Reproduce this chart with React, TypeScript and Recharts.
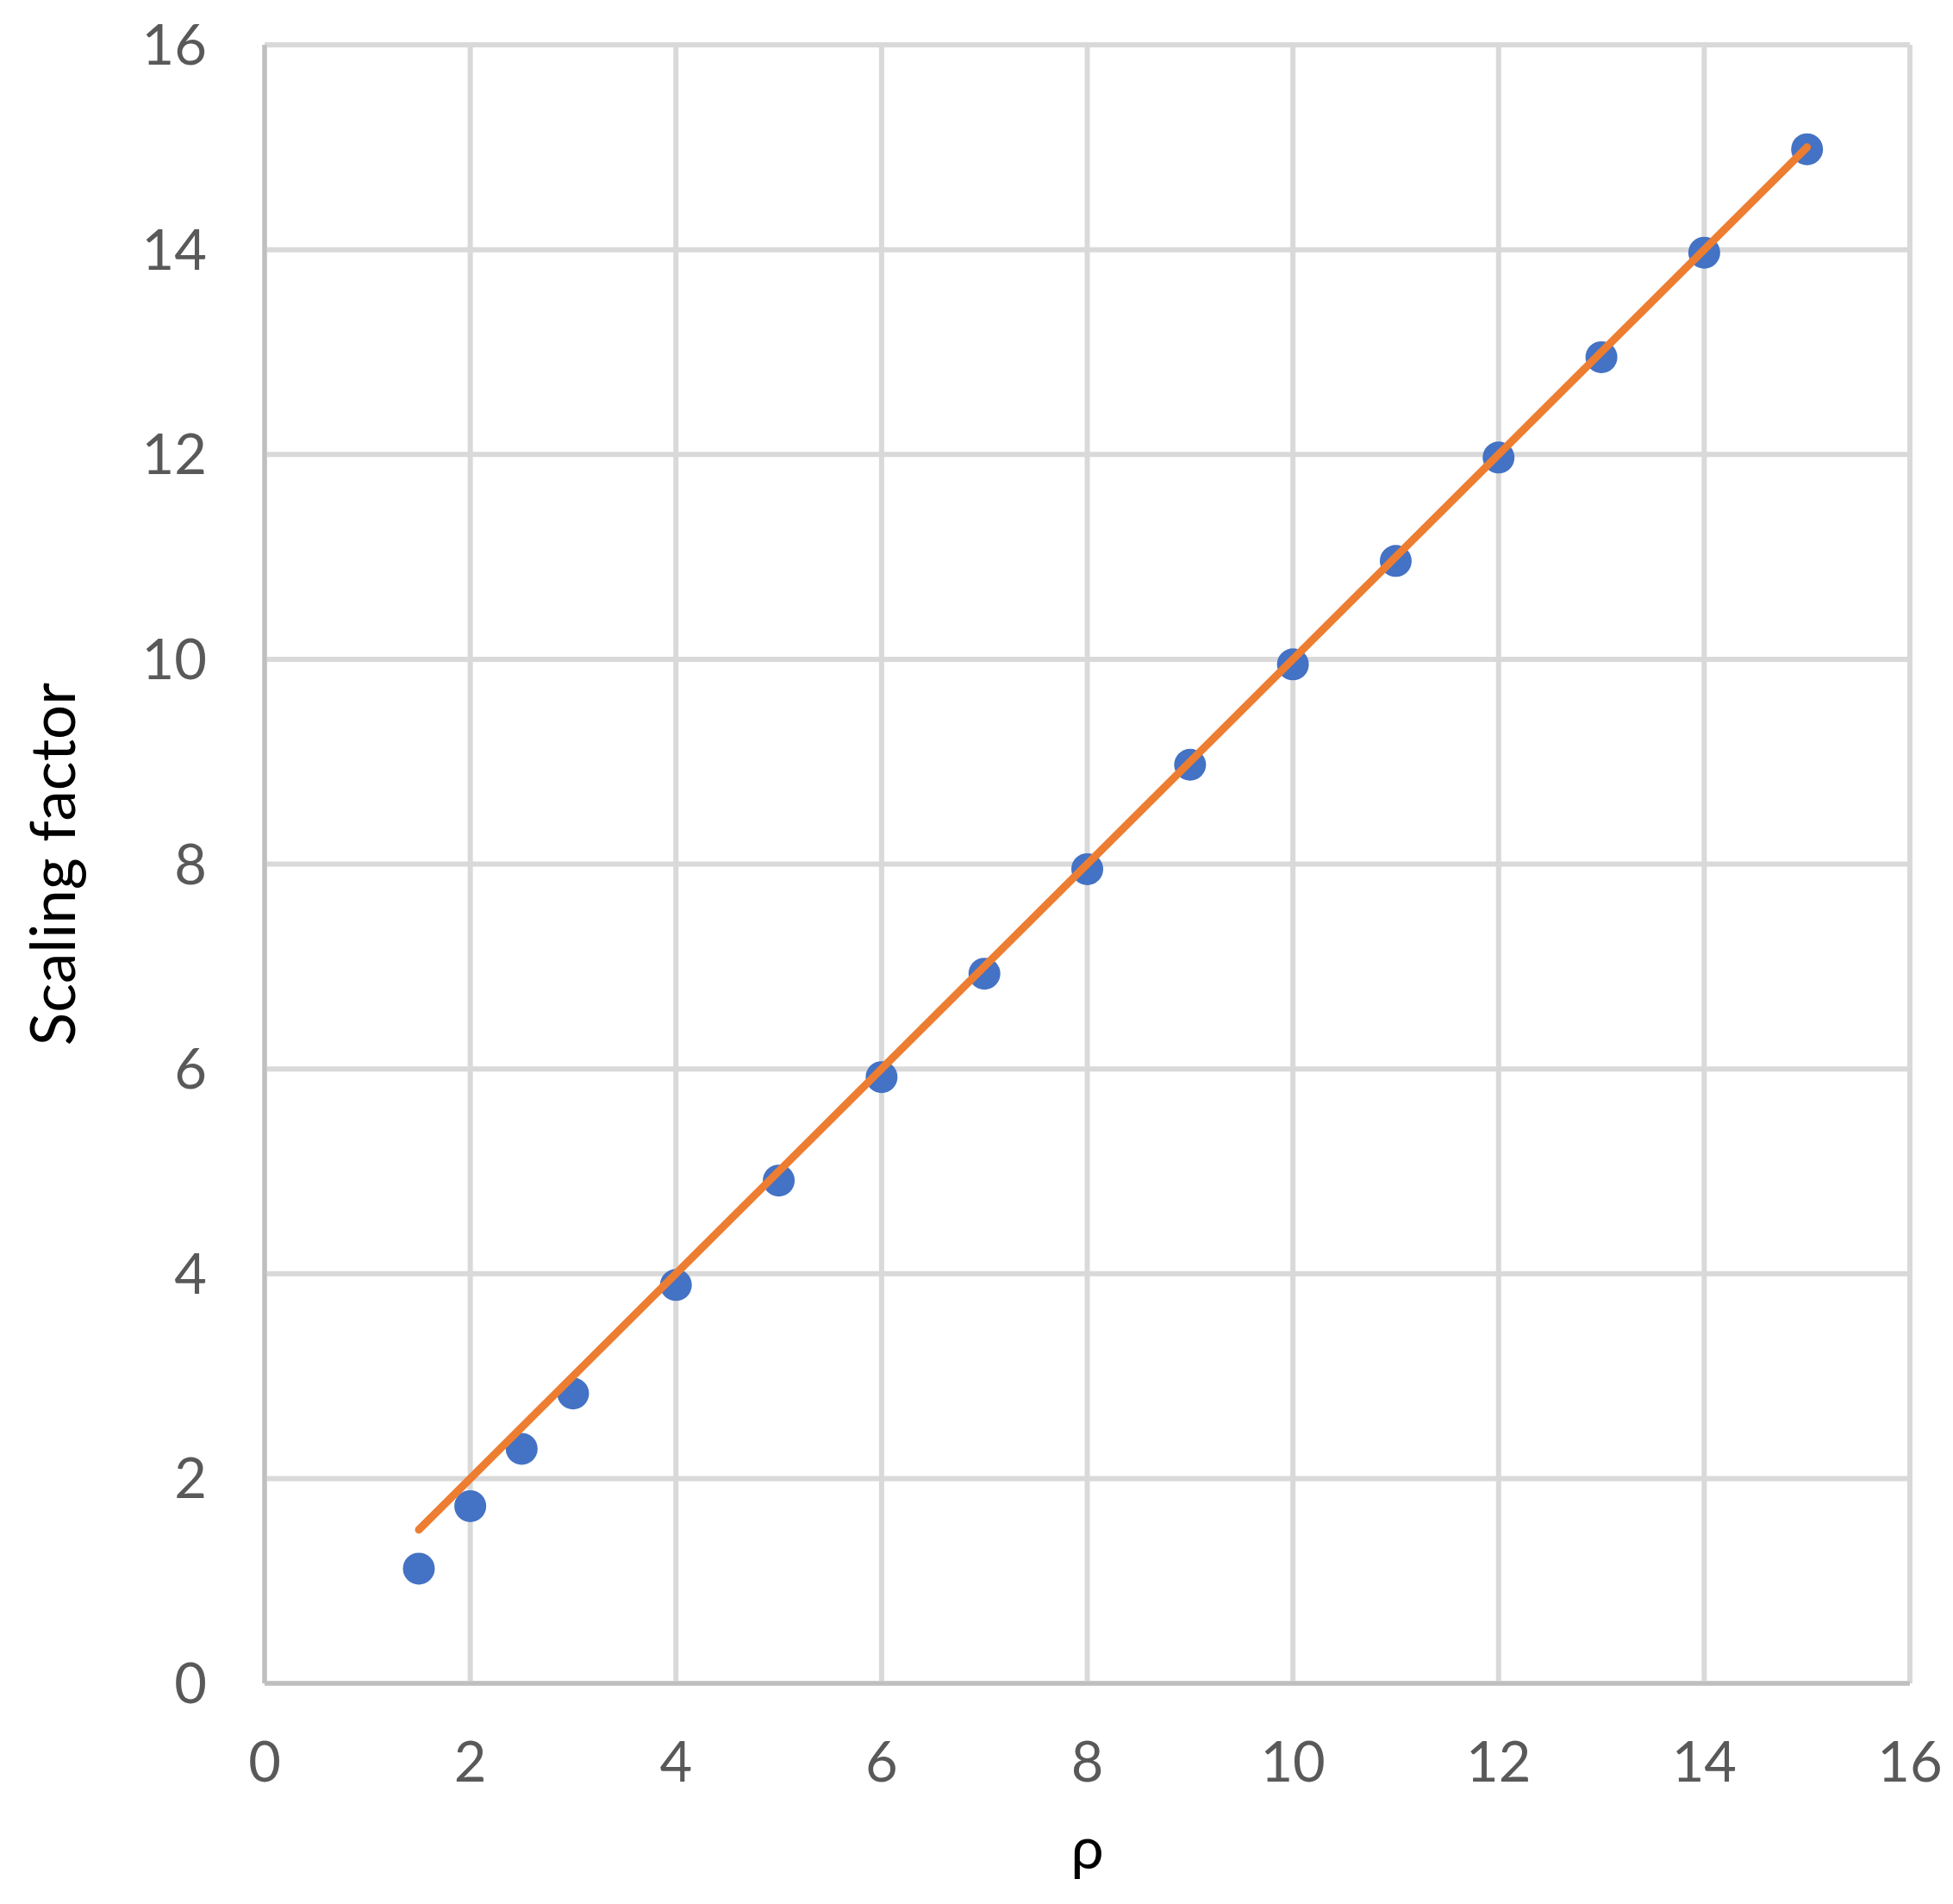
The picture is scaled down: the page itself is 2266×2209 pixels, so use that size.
import { ScatterChart, Scatter, XAxis, YAxis, CartesianGrid } from 'recharts';

// measured points
const rho = [1.5, 2, 2.5, 3, 4, 5, 6, 7, 8, 9, 10, 11, 12, 13, 14, 15];
const scaling = [1.12, 1.73, 2.29, 2.83, 3.89, 4.91, 5.92, 6.93, 7.95, 8.97, 9.95, 10.96, 11.97, 12.95, 13.97, 14.98];

// fitted line end points
const fitRho = [1.5, 15];
const fitScaling = [1.5, 15];

const axisTicks = [0, 2, 4, 6, 8, 10, 12, 14, 16];

const points = rho.map((x, i) => ({ x, y: scaling[i] }));
const fit = fitRho.map((x, i) => ({ x, y: fitScaling[i] }));

const FONT = 'Lato, "Open Sans", sans-serif';
const tickStyle = { fontSize: 65, fill: '#595959', fontFamily: FONT };

const Dot = (props: any) => <circle cx={props.cx} cy={props.cy} r={18.5} fill="#4472C4" />;

export default function App() {
  return (
    <div style={{ position: 'absolute', left: 0, top: 0, background: '#fff' }}>
      <ScatterChart width={2266} height={2209} margin={{ top: 52, right: 50, left: 27, bottom: 41 }}>
        <CartesianGrid stroke="#d9d9d9" strokeWidth={6} />
        <XAxis
          type="number"
          dataKey="x"
          domain={[0, 16]}
          ticks={axisTicks}
          height={215}
          tick={tickStyle}
          tickLine={false}
          tickSize={0}
          tickMargin={68}
          axisLine={{ stroke: '#bfbfbf', strokeWidth: 5 }}
          label={{ value: 'ρ', position: 'insideBottom', offset: 0, fontSize: 68, fill: '#000', fontFamily: FONT }}
        />
        <YAxis
          type="number"
          dataKey="y"
          domain={[0, 16]}
          ticks={axisTicks}
          width={280}
          tick={tickStyle}
          tickLine={false}
          tickSize={0}
          tickMargin={67}
          axisLine={{ stroke: '#bfbfbf', strokeWidth: 5 }}
          label={{
            value: 'Scaling factor',
            angle: -90,
            position: 'insideLeft',
            offset: 35,
            fontSize: 71,
            fill: '#000',
            fontFamily: FONT,
            style: { textAnchor: 'middle' },
          }}
        />
        <Scatter data={points} fill="#4472C4" shape={Dot} isAnimationActive={false} />
        <Scatter
          data={fit}
          line={{ stroke: '#ED7D31', strokeWidth: 9, strokeLinecap: 'round' }}
          lineJointType="linear"
          shape={() => <g />}
          isAnimationActive={false}
        />
      </ScatterChart>
    </div>
  );
}
